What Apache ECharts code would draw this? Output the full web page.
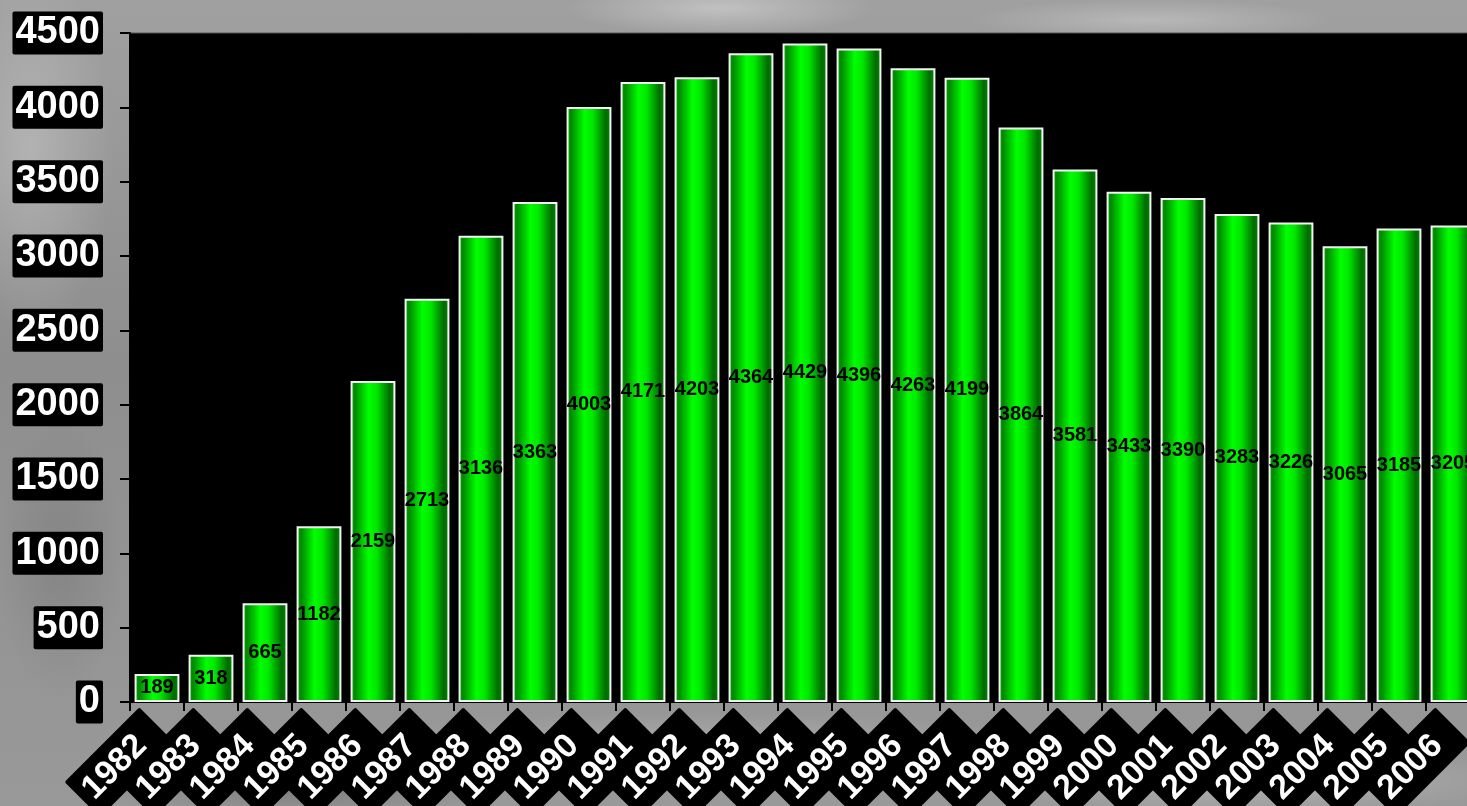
<!DOCTYPE html>
<html>
<head>
<meta charset="utf-8">
<script src="https://cdn.jsdelivr.net/npm/echarts@6/dist/echarts.min.js"></script>
<style>
  html, body { margin: 0; padding: 0; width: 1467px; height: 806px; overflow: hidden; }
  body {
    background:
      radial-gradient(ellipse 220px 40px at 720px 8px, rgba(255,255,255,0.35), rgba(255,255,255,0) 70%),
      radial-gradient(ellipse 260px 30px at 1150px 20px, rgba(230,230,230,0.35), rgba(255,255,255,0) 70%),
      radial-gradient(ellipse 120px 260px at 30px 150px, rgba(210,210,210,0.45), rgba(255,255,255,0) 70%),
      radial-gradient(ellipse 90px 200px at 60px 560px, rgba(90,90,90,0.25), rgba(0,0,0,0) 70%),
      radial-gradient(ellipse 500px 40px at 700px 740px, rgba(200,200,200,0.35), rgba(255,255,255,0) 70%),
      radial-gradient(ellipse 400px 50px at 1250px 780px, rgba(220,220,220,0.4), rgba(255,255,255,0) 70%),
      radial-gradient(ellipse 300px 40px at 300px 790px, rgba(70,70,70,0.3), rgba(0,0,0,0) 70%),
      linear-gradient(180deg, #a0a0a0 0%, #8e8e8e 45%, #999999 100%);
  }
  #chart { width: 1467px; height: 806px; }
</style>
</head>
<body>
<div id="chart"></div>
<script>
// Yearly totals, 1982–2006
const years = ['1982','1983','1984','1985','1986','1987','1988','1989','1990','1991',
               '1992','1993','1994','1995','1996','1997','1998','1999','2000','2001',
               '2002','2003','2004','2005','2006'];
const totals = [189, 318, 665, 1182, 2159, 2713, 3136, 3363, 4003, 4171,
                4203, 4364, 4429, 4396, 4263, 4199, 3864, 3581, 3433, 3390,
                3283, 3226, 3065, 3185, 3205];
const yTicks = { min: 0, max: 4500, step: 500 };

const chart = echarts.init(document.getElementById('chart'), null, { renderer: 'canvas' });

const barFill = new echarts.graphic.LinearGradient(0, 0, 1, 0, [
  { offset: 0.00, color: '#00a800' },
  { offset: 0.10, color: '#008a00' },
  { offset: 0.40, color: '#00ff00' },
  { offset: 0.58, color: '#00e800' },
  { offset: 0.88, color: '#006a00' },
  { offset: 1.00, color: '#008c00' }
]);

const boxLabel = {
  color: '#ffffff',
  fontFamily: 'Liberation Sans, Arial, sans-serif',
  fontWeight: 'bold',
  backgroundColor: '#000000',
  borderRadius: 2
};

// The plot runs past the right edge, so the last bar is partly cut off.
chart.setOption({
  backgroundColor: 'transparent',
  animation: false,
  grid: {
    left: 130, top: 33, width: 1350, bottom: 104,
    outerBoundsMode: 'none',
    containLabel: false,
    show: true, backgroundColor: '#000000', borderColor: '#555555', borderWidth: 1
  },
  xAxis: {
    type: 'category',
    data: years,
    axisLine: { show: true, lineStyle: { color: '#000000', width: 2 } },
    axisTick: { show: true, length: 9, lineStyle: { color: '#000000', width: 2 } },
    axisLabel: Object.assign({}, boxLabel, {
      rotate: 45,
      margin: 23,
      fontSize: 34,
      lineHeight: 36,
      padding: [7, 22, 7, 8],
      interval: 0
    })
  },
  yAxis: {
    type: 'value',
    min: yTicks.min, max: yTicks.max, interval: yTicks.step,
    splitLine: { show: false },
    axisLine: { show: true, lineStyle: { color: '#000000', width: 2 } },
    axisTick: { show: true, length: 10, lineStyle: { color: '#000000', width: 2 } },
    axisLabel: Object.assign({}, boxLabel, {
      margin: 27,
      fontSize: 38,
      lineHeight: 39,
      padding: [2, 3, 2, 3],
      formatter: v => String(v)
    })
  },
  series: [{
    type: 'bar',
    data: totals,
    barCategoryGap: '17%',
    itemStyle: { color: barFill, borderColor: '#f4f4f4', borderWidth: 2 },
    label: {
      show: true,
      position: 'inside',
      color: '#000000',
      fontSize: 20,
      fontWeight: 'bold',
      fontFamily: 'Liberation Sans, Arial, sans-serif'
    }
  }]
});
</script>
</body>
</html>
